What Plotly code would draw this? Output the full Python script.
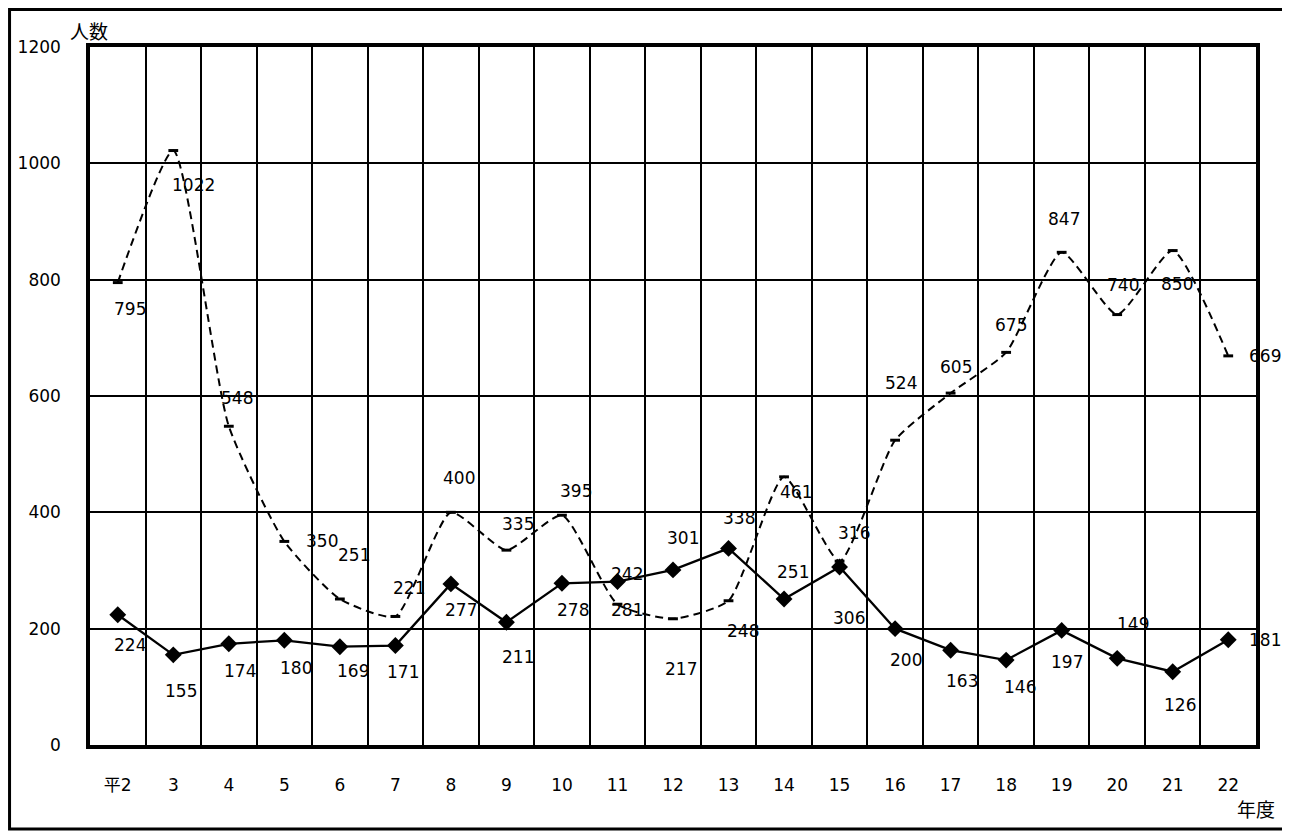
import plotly.graph_objects as go

years = ["平2", "3", "4", "5", "6", "7", "8", "9", "10", "11", "12", "13", "14", "15",
         "16", "17", "18", "19", "20", "21", "22"]
series_dashed = [795, 1022, 548, 350, 251, 221, 400, 335, 395, 242, 217, 248, 461, 316,
                 524, 605, 675, 847, 740, 850, 669]
series_solid = [224, 155, 174, 180, 169, 171, 277, 211, 278, 281, 301, 338, 251, 306,
                200, 163, 146, 197, 149, 126, 181]
y_ticks = [0, 200, 400, 600, 800, 1000, 1200]

# label offsets (pixels) for data labels
dash_dx = [12, 20, 8, 38, 14, 14, 8, 12, 14, 10, 8, 14, 12, 14, 6, 5, 5, 2, 6, 4, 37]
dash_dy = [-26, -34, 28, 0, 44, 28, 34, 26, 24, 30, -50, -30, -15, 28, 57, 26, 27, 33, 30, -33, 0]
solid_dx = [12, 8, 11, 12, 13, 8, 10, 12, 11, 10, 10, 10, 9, 9, 11, 11, 14, 5, 16, 7, 37]
solid_dy = [-30, -36, -27, -28, -24, -26, -26, -35, -27, -28, 32, 30, 27, -51, -31, -31, -27, -32, 34, -33, 0]

FONT = "DejaVu Sans, Noto Sans CJK JP, sans-serif"
FS = 17

fig = go.Figure()
fig.add_trace(go.Scatter(
    x=years, y=series_dashed, mode="lines+markers",
    line=dict(color="black", width=2, dash="8px,5px", shape="spline", smoothing=0.55),
    marker=dict(symbol="line-ew", size=7, line=dict(color="black", width=3)),
    showlegend=False, hoverinfo="x+y"))
fig.add_trace(go.Scatter(
    x=years, y=series_solid, mode="lines+markers",
    line=dict(color="black", width=2.3),
    marker=dict(symbol="diamond", size=13, color="black"),
    showlegend=False, hoverinfo="x+y"))

annotations = []
for i, v in enumerate(series_dashed):
    annotations.append(dict(x=i, y=v, text=str(v), showarrow=False,
                            xshift=dash_dx[i], yshift=dash_dy[i],
                            font=dict(family=FONT, size=FS, color="black")))
for i, v in enumerate(series_solid):
    annotations.append(dict(x=i, y=v, text=str(v), showarrow=False,
                            xshift=solid_dx[i], yshift=solid_dy[i],
                            font=dict(family=FONT, size=FS, color="black")))

annotations.append(dict(xref="paper", yref="paper", x=-0.019, y=1.0215, text="人数",
                        showarrow=False, xanchor="left", yanchor="middle",
                        font=dict(family=FONT, size=19, color="black")))
annotations.append(dict(xref="paper", yref="paper", x=1.0, y=-0.093, text="年度",
                        showarrow=False, xanchor="center", yanchor="middle",
                        font=dict(family=FONT, size=19, color="black")))

fig.update_layout(
    template="none",
    width=1282, height=825,
    margin=dict(l=82, r=34, t=39, b=88, autoexpand=False),
    paper_bgcolor="white", plot_bgcolor="white",
    font=dict(family=FONT, size=FS, color="black"),
    annotations=annotations,
    xaxis=dict(type="category", tickson="boundaries", showgrid=True, automargin=False,
               gridcolor="black", gridwidth=1.5, showline=True, linecolor="black",
               linewidth=3.5, mirror=True, ticks="inside", ticklen=5, tickwidth=2,
               tickcolor="black", ticklabelstandoff=22, range=[-0.5, 20.5],
               tickfont=dict(family=FONT, size=FS)),
    yaxis=dict(range=[0, 1200], tickvals=y_ticks, showgrid=True, gridcolor="black",
               automargin=False,
               gridwidth=1.5, showline=True, linecolor="black", linewidth=3.5, mirror=True,
               ticks="inside", ticklen=5, tickwidth=2, tickcolor="black",
               ticklabelstandoff=22, zeroline=False,
               tickfont=dict(family=FONT, size=FS)),
    shapes=[dict(type="rect", xref="paper", yref="paper",
                 x0=-0.069, x1=1.024, y0=-0.1203, y1=1.0537,
                 line=dict(color="black", width=3))],
)

fig.write_html("out.html")
